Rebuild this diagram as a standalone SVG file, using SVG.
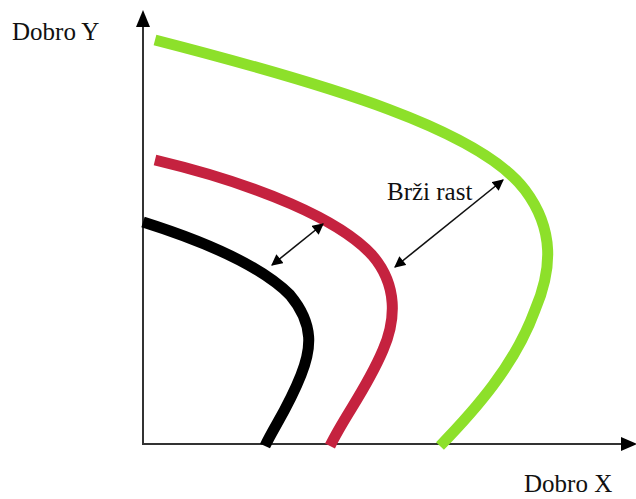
<svg xmlns="http://www.w3.org/2000/svg" width="636" height="499" viewBox="0 0 636 499">
<defs>
<marker id="ah" viewBox="0 0 10 10" refX="9" refY="5" markerWidth="7.5" markerHeight="7" orient="auto-start-reverse"><path d="M0,0 L10,5 L0,10 z" fill="#000"/></marker>
<style>
.t{font-family:"Liberation Serif",serif;font-size:25px;fill:#111}
.c{fill:none;stroke-width:11;stroke-linecap:butt}
.ar{stroke:#111;stroke-width:1.6;fill:none}
</style>
</defs>
<rect width="636" height="499" fill="#fff"/>
<g id="axes">
<line x1="143" y1="445" x2="143" y2="24" stroke="#333" stroke-width="2"/>
<polygon points="143,10 136,27 150,27" fill="#000"/>
<line x1="142" y1="444" x2="624" y2="444" stroke="#333" stroke-width="2"/>
<polygon points="637,444 621,437 621,451" fill="#000"/>
</g>
<g id="curves">
<path id="green" class="c" stroke="#8de02a" d="M155,40 C330,85 480,130 525,190 C555,230 552,270 535,310 C515,365 475,410 440,446"/>
<path id="red" class="c" stroke="#c5223f" d="M155,160 C260,185 340,220 372,255 C398,285 396,320 383,350 C366,390 345,415 330,446"/>
<path id="black" class="c" stroke="#000" d="M143,222 C200,240 260,265 290,295 C315,325 311,350 301,375 C288,408 275,425 265,446"/>
</g>
<g id="connectors">
<line class="ar" x1="272" y1="265" x2="323" y2="224" marker-start="url(#ah)" marker-end="url(#ah)"/>
<line class="ar" x1="395" y1="267" x2="503" y2="180" marker-start="url(#ah)" marker-end="url(#ah)"/>
</g>
<g id="labels">
<text class="t" x="12" y="40">Dobro Y</text>
<text class="t" x="524" y="492">Dobro X</text>
<text class="t" x="387" y="200">Brži rast</text>
</g>
</svg>
